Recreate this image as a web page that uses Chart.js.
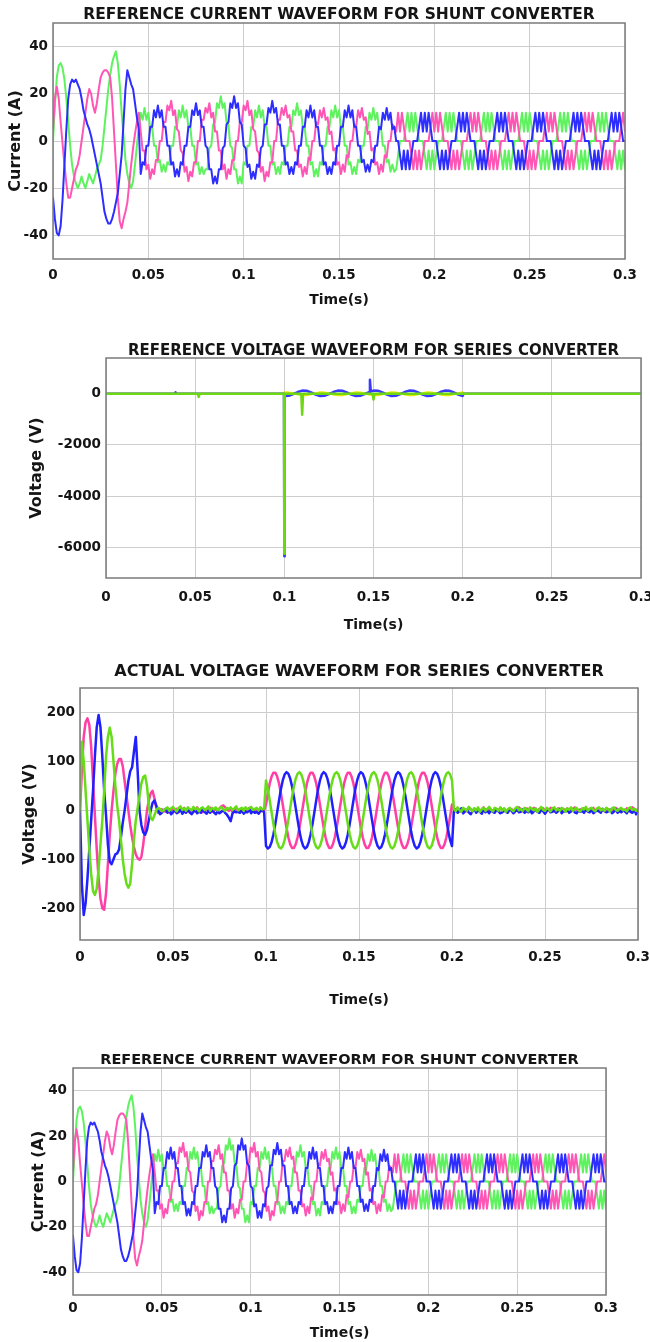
<!DOCTYPE html>
<html><head><meta charset="utf-8">
<script src="https://cdn.jsdelivr.net/npm/chart.js@4.4.1/dist/chart.umd.min.js"></script>
<style>
html,body{margin:0;padding:0;background:#fff}
body{width:650px;height:1342px;position:relative;overflow:hidden}
.panel{position:absolute;left:0;width:650px}
canvas{display:block}
</style></head><body>
<div class="panel" style="top:0px;height:315px"><canvas id="c1" width="650" height="315"></canvas></div>
<div class="panel" style="top:330px;height:310px"><canvas id="c2" width="650" height="310"></canvas></div>
<div class="panel" style="top:640px;height:400px"><canvas id="c3" width="650" height="400"></canvas></div>
<div class="panel" style="top:1040px;height:302px"><canvas id="c4" width="650" height="302"></canvas></div>
<script>
// ---------- DATA ----------
const sampleStep = 0.001; // seconds between samples (panels 1, 3, 4)
const xTickValues = [0, 0.05, 0.1, 0.15, 0.2, 0.25, 0.3];
const xTickLabels = ['0', '0.05', '0.1', '0.15', '0.2', '0.25', '0.3'];
const shuntTicks = [-40, -20, 0, 20, 40];
const seriesRefTicks = [-6000, -4000, -2000, 0];
const seriesActTicks = [-200, -100, 0, 100, 200];

// Reference current for shunt converter (A), 1 ms samples 0..0.3 s
const shuntBlue = [
-24,-33,-39,-40,-36,-25,-10,5,18,24, 26,25,26,24,22,18,13,10,7,5, 2,-2,-6,-10,-14,-18,-24,-30,-33,-35, -35,-33,-30,-26,-22,-14,-6,8,22,30, 27,24,22,16,10,5,
-14,-9,-10,-2,-2,6,6,13,10,15,10,13,6,6,
-2,-2,-10,-9,-15,-12,-15,-9,-10,-2,-2,6,6,13,11,16,11,13,6,6,
-2,-3,-12,-12,-18,-15,-18,-12,-12,-3,-2,7,8,16,14,19,14,16,8,7,
-2,-3,-11,-10,-16,-13,-16,-10,-11,-3,-2,7,7,14,12,17,12,14,7,7,
-2,-2,-10,-9,-14,-11,-14,-9,-10,-2,-2,6,6,13,10,15,10,13,6,6,
-2,-2,-10,-9,-14,-11,-14,-9,-10,-2,-2,6,6,13,10,15,10,13,6,6,
-2,-2,-9,-8,-13,-10,-13,-8,-9,-2,-2,6,5,12,9,14,9,12,5,6,
0,0,-6,-12,-4,-12,-4,-12,-6,0,0,0,6,12,4,12,4,12,6,0,
0,0,-6,-12,-4,-12,-4,-12,-6,0,0,0,6,12,4,12,4,12,6,0,
0,0,-6,-12,-4,-12,-4,-12,-6,0,0,0,6,12,4,12,4,12,6,0,
0,0,-6,-12,-4,-12,-4,-12,-6,0,0,0,6,12,4,12,4,12,6,0,
0,0,-6,-12,-4,-12,-4,-12,-6,0,0,0,6,12,4,12,4,12,6,0,
0,0,-6,-12,-4,-12,-4,-12,-6,0,0,0,6,12,4,12,4,12,6,0,
0];
const shuntPink = [
5,18,23,18,8,-1,-10,-18,-24,-24, -20,-16,-12,-10,-6,0,6,12,18,22, 20,15,12,16,22,27,29,30,30,29, 27,18,4,-10,-24,-34,-37,-33,-30,-26, -18,-10,-3,3,8,12,
4,-4,-4,-12,-10,-16,-12,-14,-8,-8,0,0,8,8,
15,13,17,11,13,5,4,-4,-5,-13,-11,-17,-13,-15,-9,-9,0,0,9,9,
14,12,16,10,12,4,4,-4,-4,-12,-10,-16,-12,-14,-8,-8,0,0,8,8,
15,13,17,11,13,5,4,-4,-5,-13,-11,-17,-13,-15,-9,-9,0,0,9,9,
14,11,15,10,11,4,4,-4,-4,-11,-10,-15,-11,-14,-7,-8,0,0,8,7,
13,10,14,9,10,3,4,-4,-3,-10,-9,-14,-10,-13,-6,-7,0,0,7,6,
13,10,14,9,10,3,4,-4,-3,-10,-9,-14,-10,-13,-6,-7,0,0,7,6,
4,12,4,12,6,0,0,0,-6,-12,-4,-12,-4,-12,-6,0,0,0,6,12,
4,12,4,12,6,0,0,0,-6,-12,-4,-12,-4,-12,-6,0,0,0,6,12,
4,12,4,12,6,0,0,0,-6,-12,-4,-12,-4,-12,-6,0,0,0,6,12,
4,12,4,12,6,0,0,0,-6,-12,-4,-12,-4,-12,-6,0,0,0,6,12,
4,12,4,12,6,0,0,0,-6,-12,-4,-12,-4,-12,-6,0,0,0,6,12,
4,12,4,12,6,0,0,0,-6,-12,-4,-12,-4,-12,-6,0,0,0,6,12,
4];
const shuntGreen = [
0,15,27,32,33,31,26,18,8,-2, -10,-15,-18,-20,-18,-15,-18,-20,-17,-14, -16,-18,-15,-12,-10,-8,-2,6,14,22, 28,33,36,38,33,24,12,2,-8,-14, -18,-20,-17,-10,-2,6,
12,9,14,9,12,5,6,-2,-2,-9,-8,-13,-10,-13,
-9,-10,-2,-2,6,6,13,10,15,10,13,6,6,-2,-2,-10,-9,-14,-11,-14,
-12,-12,-3,-2,7,8,16,14,19,14,16,8,7,-2,-3,-12,-12,-18,-15,-18,
-9,-10,-2,-2,6,6,13,10,15,10,13,6,6,-2,-2,-10,-9,-14,-11,-14,
-9,-10,-2,-2,6,6,13,11,16,11,13,6,6,-2,-2,-10,-9,-15,-12,-15,
-9,-10,-2,-2,6,6,13,10,15,10,13,6,6,-2,-2,-10,-9,-14,-11,-14,
-8,-9,-2,-2,6,5,12,9,14,9,12,5,6,-2,-2,-9,-8,-13,-10,-13,
-12,-6,0,0,0,6,12,4,12,4,12,6,0,0,0,-6,-12,-4,-12,-4,
-12,-6,0,0,0,6,12,4,12,4,12,6,0,0,0,-6,-12,-4,-12,-4,
-12,-6,0,0,0,6,12,4,12,4,12,6,0,0,0,-6,-12,-4,-12,-4,
-12,-6,0,0,0,6,12,4,12,4,12,6,0,0,0,-6,-12,-4,-12,-4,
-12,-6,0,0,0,6,12,4,12,4,12,6,0,0,0,-6,-12,-4,-12,-4,
-12,-6,0,0,0,6,12,4,12,4,12,6,0,0,0,-6,-12,-4,-12,-4,
-12];

// Reference voltage for series converter (V), irregular time stamps
const refGreenTime = [0, 0.0515, 0.052, 0.0525, 0.0998, 0.1, 0.1002, 0.1095, 0.11, 0.1105, 0.1495, 0.15, 0.1505, 0.3];
const refGreenVolt = [0, 0, -120, 0, 0, -6250, 0, 0, -820, 0, 0, -220, 0, 0];
const refBlueTime = [0, 0.0385, 0.039, 0.0395, 0.0998, 0.1, 0.1002,
0.1025, 0.105, 0.1075, 0.11, 0.1125, 0.115, 0.1175, 0.12, 0.1225, 0.125, 0.1275, 0.13, 0.1325, 0.135, 0.1375, 0.14, 0.1425, 0.145, 0.1475,
0.148, 0.1485,
0.15, 0.1525, 0.155, 0.1575, 0.16, 0.1625, 0.165, 0.1675, 0.17, 0.1725, 0.175, 0.1775, 0.18, 0.1825, 0.185, 0.1875, 0.19, 0.1925, 0.195, 0.1975, 0.2,
0.2005, 0.3];
const refBlueVolt = [0, 0, 60, 0, 0, -6350, -85,
-78, -14, 70, 125, 118, 54, -30, -85, -78, -14, 70, 125, 118, 54, -30, -85, -78, -14, 70,
550, 90,
125, 118, 54, -30, -85, -78, -14, 70, 125, 118, 54, -30, -85, -78, -14, 70, 125, 118, 54, -30, -85,
0, 0];
const refYellowTime = [0, 0.0998,
0.1, 0.1025, 0.105, 0.1075, 0.11, 0.1125, 0.115, 0.1175, 0.12, 0.1225, 0.125, 0.1275, 0.13, 0.1325, 0.135, 0.1375, 0.14, 0.1425, 0.145, 0.1475,
0.15, 0.1525, 0.155, 0.1575, 0.16, 0.1625, 0.165, 0.1675, 0.17, 0.1725, 0.175, 0.1775, 0.18, 0.1825, 0.185, 0.1875, 0.19, 0.1925, 0.195, 0.1975, 0.2,
0.2002, 0.3];
const refYellowVolt = [0, 0,
57, 53, 19, -27, -57, -53, -19, 27, 57, 53, 19, -27, -57, -53, -19, 27, 57, 53, 19, -27,
-57, -53, -19, 27, 57, 53, 19, -27, -57, -53, -19, 27, 57, 53, 19, -27, -57, -53, -19, 27, 57,
0, 0];

// Actual voltage for series converter (V), 1 ms samples 0..0.3 s
const actBlue = [
0,-150,-214,-190,-140,-80,-20,40,110,170, 195,170,110,40,-10,-70,-105,-110,-100,-90, -88,-80,-55,-25,0,30,60,80,88,120, 150,80,0,-30,-45,-50,-40,-20,0,15, 20,10,0,-8,-5,0,
3,-5,2,-8,-4,1,-6,-3,2,-7, -2,-5,1,-4,-8,-3,0,-6,-2,-5, 4,-3,-7,-1,-5,2,-4,-8,-2,-6, -3,1,-5,-9,-15,-22,-6,-2,-4,-3, -5,0,-7,-2,-4,3,-6,-1,-5,-3, -7,-2,1,-4,
-73,-78,-75,-65,-49,-28,-4,20,43,61,73,78,75,65,49,28,4,-20,-43,-61,
-73,-78,-75,-65,-49,-28,-4,20,43,61,73,78,75,65,49,28,4,-20,-43,-61,
-73,-78,-75,-65,-49,-28,-4,20,43,61,73,78,75,65,49,28,4,-20,-43,-61,
-73,-78,-75,-65,-49,-28,-4,20,43,61,73,78,75,65,49,28,4,-20,-43,-61,
-73,-78,-75,-65,-49,-28,-4,20,43,61,73,78,75,65,49,28,4,-20,-43,-61,
-73,
-3,2,-5,-1,4,-6,-2,1,-4,-8, -2,3,-5,0,-3,-7,2,-4,-1,-6, 1,-3,-5,2,-2,-6,-4,0,-3,-5, 3,-1,-6,-2,1,-4,-3,2,-5,-1, -4,0,-6,-2,3,-3,-5,1,-2,-7,
-1,2,-4,-3,0,-5,-2,3,-6,-1, -3,1,-5,-2,2,-4,-6,0,-3,-1, -5,2,-2,-4,1,-6,-3,0,-2,-5, 3,-1,-4,-2,1,-6,-3,2,-5,-1, -4,0,-2,-6,1,-3,-5,2,-8,-3];
const actPink = [
0,80,150,180,188,175,130,60,-10,-80, -140,-180,-200,-203,-170,-110,-50,0,40,75, 95,105,105,90,60,30,0,-30,-55,-75, -90,-98,-101,-95,-70,-35,0,20,35,40, 25,5,-5,-3,2,0,
-3,2,-5,0,4,-2,3,-4,1,-1, 5,-3,2,-4,0,3,-2,6,-1,2, -4,1,3,-2,5,-3,0,2,-1,4, 8,10,6,2,-1,3,-3,1,4,-2, 2,-1,3,-4,0,5,-2,1,-3,2, -1,4,-2,0,
12,35,55,69,77,77,69,55,35,12,-12,-35,-55,-69,-77,-77,-69,-55,-35,-12,
12,35,55,69,77,77,69,55,35,12,-12,-35,-55,-69,-77,-77,-69,-55,-35,-12,
12,35,55,69,77,77,69,55,35,12,-12,-35,-55,-69,-77,-77,-69,-55,-35,-12,
12,35,55,69,77,77,69,55,35,12,-12,-35,-55,-69,-77,-77,-69,-55,-35,-12,
12,35,55,69,77,77,69,55,35,12,-12,-35,-55,-69,-77,-77,-69,-55,-35,-12,
12,
2,-1,4,0,-3,3,1,-2,5,2, -1,3,0,4,-2,2,6,1,-1,3, 0,-2,4,2,-1,5,1,3,-2,0, 4,2,-1,3,0,6,2,-2,1,4, 3,-1,2,5,0,-2,3,1,4,-1,
2,0,5,3,-2,1,4,2,-1,3, 0,4,1,-2,3,6,1,0,2,-1, 4,2,-2,3,1,5,0,2,-1,3, 1,-2,4,2,0,3,-1,5,2,0, 3,1,-2,4,2,-1,6,3,0,2];
const actGreen = [
0,140,100,40,-20,-80,-130,-165,-173,-160, -120,-70,-20,40,110,150,169,150,100,50, 10,-20,-60,-100,-130,-150,-158,-150,-110,-60, -20,5,30,55,68,71,50,10,-15,-20, -10,0,5,3,-2,0,
3,6,-1,4,7,2,-2,5,8,1, 4,-1,6,3,0,7,2,5,-2,4, 6,1,3,8,-1,5,2,6,0,4, 7,2,-1,5,3,6,1,4,8,0, 3,5,-1,6,2,4,7,1,3,5, 0,6,2,4,
61,43,20,-4,-28,-49,-65,-75,-78,-73,-61,-43,-20,4,28,49,65,75,78,73,
61,43,20,-4,-28,-49,-65,-75,-78,-73,-61,-43,-20,4,28,49,65,75,78,73,
61,43,20,-4,-28,-49,-65,-75,-78,-73,-61,-43,-20,4,28,49,65,75,78,73,
61,43,20,-4,-28,-49,-65,-75,-78,-73,-61,-43,-20,4,28,49,65,75,78,73,
61,43,20,-4,-28,-49,-65,-75,-78,-73,-61,-43,-20,4,28,49,65,75,78,73,
61,
4,-2,6,1,-3,5,2,-1,7,3, -2,4,0,6,-3,2,5,-1,3,7, 1,-2,5,3,-1,6,0,4,-3,2, 5,1,-2,4,7,0,3,-1,5,2, -2,6,3,0,4,-3,2,7,1,-1,
5,2,-2,4,6,0,3,-1,5,2, -3,4,1,6,-1,3,5,0,-2,4, 2,7,-1,3,5,1,-2,4,6,0, 3,-1,5,2,-3,4,6,1,-1,3, 5,0,2,-2,4,6,1,3,-1,2];

// ---------- DRAWING ----------
const FONT = 'DejaVu Sans';
const GRID = '#cdcdcd';
const TXT = '#151515';
function sampled(values) { return values.map((v, i) => ({x: i * sampleStep, y: v})); }
function paired(ts, vs) { return ts.map((t, i) => ({x: t, y: vs[i]})); }

const boxPlugin = {
  id: 'box',
  afterDraw(chart) {
    const a = chart.chartArea, ctx = chart.ctx;
    ctx.save();
    ctx.strokeStyle = '#7b7b7b';
    ctx.lineWidth = 1.5;
    ctx.strokeRect(a.left, a.top, a.right - a.left, a.bottom - a.top);
    ctx.restore();
  }
};

function makeChart(id, g, datasets, yMin, yMax, yTicks, yTitle, title) {
  const tickFont = {family: FONT, weight: 'bold', size: 13.5, lineHeight: 1.2};
  new Chart(document.getElementById(id), {
    type: 'line',
    data: {datasets},
    options: {
      responsive: false, animation: false, devicePixelRatio: 1, events: [],
      layout: {padding: {left: 0, right: 650 - g.R, top: 0, bottom: 0}},
      elements: {point: {radius: 0}, line: {tension: 0, borderJoinStyle: 'round', borderCapStyle: 'round'}},
      plugins: {
        legend: {display: false}, tooltip: {enabled: false},
        title: {display: true, text: title, fullSize: false, color: TXT,
          font: {family: FONT, weight: 'bold', size: g.titleSize, lineHeight: 1},
          padding: {top: g.titleCY - g.titleSize / 2, bottom: g.T - g.titleCY - g.titleSize / 2}}
      },
      scales: {
        x: {
          type: 'linear', min: 0, max: 0.3,
          afterFit(s) { s.height = g.H - g.B; s.paddingLeft = 0; s.paddingRight = 0; },
          afterBuildTicks(s) { s.ticks = xTickValues.map(v => ({value: v})); },
          grid: {color: GRID, lineWidth: 1, drawTicks: false},
          border: {display: false},
          ticks: {autoSkip: false, maxRotation: 0, minRotation: 0, color: TXT, font: tickFont,
            padding: g.xLabelCY - g.B - 8.1,
            callback: (v) => { const k = xTickValues.indexOf(v); return k >= 0 ? xTickLabels[k] : ''; }},
          title: {display: true, text: 'Time(s)', color: TXT,
            font: {family: FONT, weight: 'bold', size: 14, lineHeight: 1.2},
            padding: {top: 0, bottom: g.H - g.xTitleCY - 8.4}}
        },
        y: {
          type: 'linear', min: yMin, max: yMax,
          afterFit(s) { s.width = g.L; s.paddingTop = 0; s.paddingBottom = 0; },
          afterBuildTicks(s) { s.ticks = yTicks.map(v => ({value: v})); },
          grid: {color: GRID, lineWidth: 1, drawTicks: false},
          border: {display: false},
          ticks: {color: TXT, font: tickFont, padding: g.L - g.yLabelRight, callback: (v) => String(v)},
          title: {display: true, text: yTitle, color: TXT,
            font: {family: FONT, weight: 'bold', size: 16, lineHeight: 1.2},
            padding: {top: g.yTitleCX - 9.6, bottom: 0}}
        }
      }
    },
    plugins: [boxPlugin]
  });
}

const shuntSets = () => [
  {data: sampled(shuntBlue), borderColor: '#2d2dff', borderWidth: 2},
  {data: sampled(shuntPink), borderColor: '#ff55b4', borderWidth: 2},
  {data: sampled(shuntGreen), borderColor: '#5ef25e', borderWidth: 2}
];

makeChart('c1',
  {H: 315, T: 23, B: 259, L: 53, R: 625, titleCY: 15, titleSize: 15.5, xLabelCY: 275, xTitleCY: 300, yTitleCX: 15.5, yLabelRight: 48},
  shuntSets(), -50, 50, shuntTicks, 'Current (A)', 'REFERENCE CURRENT WAVEFORM FOR SHUNT CONVERTER');

makeChart('c2',
  {H: 310, T: 28, B: 248, L: 106, R: 641, titleCY: 21, titleSize: 15, xLabelCY: 267, xTitleCY: 295, yTitleCX: 37, yLabelRight: 101},
  [
    {data: paired(refGreenTime, refGreenVolt), borderColor: '#6fd814', borderWidth: 2.5},
    {data: paired(refBlueTime, refBlueVolt), borderColor: '#3a3aff', borderWidth: 2.5},
    {data: paired(refYellowTime, refYellowVolt), borderColor: '#e6e600', borderWidth: 2}
  ], -7200, 1400, seriesRefTicks, 'Voltage (V)', 'REFERENCE VOLTAGE WAVEFORM FOR SERIES CONVERTER');

makeChart('c3',
  {H: 400, T: 48, B: 300, L: 80, R: 638, titleCY: 32, titleSize: 16, xLabelCY: 317, xTitleCY: 360, yTitleCX: 30, yLabelRight: 75},
  [
    {data: sampled(actGreen), borderColor: '#66dd18', borderWidth: 2.5},
    {data: sampled(actBlue), borderColor: '#2020ff', borderWidth: 2.5},
    {data: sampled(actPink), borderColor: '#ff3fa6', borderWidth: 2.5}
  ], -265, 250, seriesActTicks, 'Voltage (V)', 'ACTUAL VOLTAGE WAVEFORM FOR SERIES CONVERTER');

makeChart('c4',
  {H: 302, T: 28, B: 255, L: 73, R: 606, titleCY: 20, titleSize: 14.5, xLabelCY: 268, xTitleCY: 293, yTitleCX: 39, yLabelRight: 67},
  shuntSets(), -50, 50, shuntTicks, 'Current (A)', 'REFERENCE CURRENT WAVEFORM FOR SHUNT CONVERTER');
</script>
</body></html>
